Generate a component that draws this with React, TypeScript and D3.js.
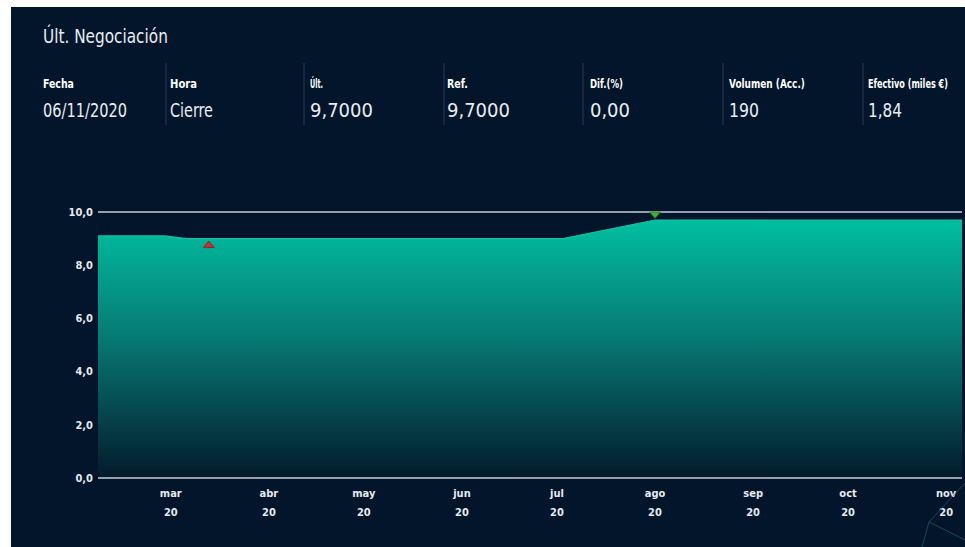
import React, { useRef, useEffect } from "react";
import * as d3 from "d3";

// header block
const title = "Últ. Negociación";
const headerLabels = ["Fecha", "Hora", "Últ.", "Ref.", "Dif.(%)", "Volumen (Acc.)", "Efectivo (miles €)"];
const headerValues = ["06/11/2020", "Cierre", "9,7000", "9,7000", "0,00", "190", "1,84"];

// price series
const dates = ["2020-02-07", "2020-02-28", "2020-03-06", "2020-03-13", "2020-07-03", "2020-08-01", "2020-11-06"];
const prices = [9.1, 9.1, 9.0, 9.0, 9.0, 9.7, 9.7];

// min / max markers
const minMarker = { date: "2020-03-13", value: 9.0 };
const maxMarker = { date: "2020-08-01", value: 9.7 };

const yTicks = [0, 2, 4, 6, 8, 10];
const monthLabels = ["mar", "abr", "may", "jun", "jul", "ago", "sep", "oct", "nov"];
const yearLabel = "20";

const W = 965;
const H = 547;
const FONT = "'DejaVu Sans Condensed', 'DejaVu Sans', Roboto, sans-serif";

// the reference uses a narrow face, so widths are pinned
const titleWidth = 125;
const labelWidths = [31, 27, 13, 21, 33, 76, 80];
const valueWidths = [84, 43, 63, 63, 40, 30, 34];

type Sel = d3.Selection<SVGGElement, unknown, null, undefined>;

const App: React.FC = () => {
  const svgRef = useRef<SVGSVGElement | null>(null);

  useEffect(() => {
    if (!svgRef.current) return;
    const svg = d3.select(svgRef.current);
    svg.selectAll("*").remove();

    const parse = d3.timeParse("%Y-%m-%d");
    const data = dates.map((d, i) => ({ date: parse(d) as Date, value: prices[i] }));

    const x = d3
      .scaleTime()
      .domain([data[0].date, data[data.length - 1].date])
      .range([98, 962]);
    const y = d3.scaleLinear().domain([0, 10]).range([478, 212]);

    // page + panel
    svg.append("rect").attr("width", W).attr("height", H).attr("fill", "#ffffff");
    svg.append("rect").attr("x", 11).attr("y", 7).attr("width", W - 11).attr("height", H - 7).attr("fill", "#02152a");

    // squeezed text: draw, measure, then scale horizontally to the target width
    const narrowText = (
      tx: number,
      ty: number,
      str: string,
      size: number,
      weight: string,
      fill: string,
      target: number
    ) => {
      const g: Sel = svg.append("g").attr("transform", `translate(${tx},${ty})`) as unknown as Sel;
      const t = g
        .append("text")
        .attr("fill", fill)
        .attr("font-family", FONT)
        .attr("font-weight", weight)
        .attr("font-size", size)
        .text(str);
      const natural = (t.node() as SVGTextElement).getComputedTextLength() || target;
      g.attr("transform", `translate(${tx},${ty}) scale(${target / natural},1)`);
    };

    narrowText(43, 43, title, 19, "normal", "#e9edf2", titleWidth);

    const colX = [43, 170, 310, 447, 590, 729, 868];
    const sepX = [166, 304, 444, 583, 723, 863];
    sepX.forEach((sx) => {
      svg
        .append("line")
        .attr("x1", sx)
        .attr("x2", sx)
        .attr("y1", 63)
        .attr("y2", 125)
        .attr("stroke", "#2a3b52")
        .attr("stroke-width", 1);
    });
    headerLabels.forEach((lab, i) => {
      narrowText(colX[i], 88, lab, 13, "bold", "#ffffff", labelWidths[i]);
      narrowText(colX[i], 117, headerValues[i], 20, "normal", "#e9edf2", valueWidths[i]);
    });

    // gradient for area
    const defs = svg.append("defs");
    const grad = defs
      .append("linearGradient")
      .attr("id", "areaGrad")
      .attr("gradientUnits", "userSpaceOnUse")
      .attr("x1", 0)
      .attr("x2", 0)
      .attr("y1", y(9.7))
      .attr("y2", y(0));
    grad.append("stop").attr("offset", "0%").attr("stop-color", "#00bfa0");
    grad.append("stop").attr("offset", "45%").attr("stop-color", "#077a74");
    grad.append("stop").attr("offset", "100%").attr("stop-color", "#041a2d");

    const area = d3
      .area<{ date: Date; value: number }>()
      .x((d) => x(d.date))
      .y0(y(0))
      .y1((d) => y(d.value));
    svg.append("path").datum(data).attr("d", area).attr("fill", "url(#areaGrad)");

    const line = d3
      .line<{ date: Date; value: number }>()
      .x((d) => x(d.date))
      .y((d) => y(d.value));
    svg
      .append("path")
      .datum(data)
      .attr("d", line)
      .attr("fill", "none")
      .attr("stroke", "#14c3a4")
      .attr("stroke-width", 1.2);

    // gridlines at 0 and 10 only
    [0, 10].forEach((v) => {
      svg
        .append("line")
        .attr("x1", 98)
        .attr("x2", 962)
        .attr("y1", y(v))
        .attr("y2", y(v))
        .attr("stroke", "#c9ced6")
        .attr("stroke-width", 1.5);
    });

    // y labels
    const fmt = (v: number) => v.toFixed(1).replace(".", ",");
    yTicks.forEach((v) => {
      svg
        .append("text")
        .attr("x", 93)
        .attr("y", y(v))
        .attr("dy", "0.35em")
        .attr("text-anchor", "end")
        .attr("fill", "#e6eaf0")
        .attr("font-family", FONT)
        .attr("font-weight", "bold")
        .attr("font-size", 11)
        .text(fmt(v));
    });

    // x labels
    const months = d3.timeMonth.range(new Date(2020, 2, 1), new Date(2020, 10, 2));
    months.forEach((m, i) => {
      const g = svg
        .append("g")
        .attr("transform", `translate(${x(m)},0)`)
        .attr("fill", "#e6eaf0")
        .attr("font-family", FONT)
        .attr("font-weight", "bold")
        .attr("font-size", 11)
        .attr("text-anchor", "middle");
      g.append("text").attr("y", 497).text(monthLabels[i]);
      g.append("text").attr("y", 516).text(yearLabel);
    });

    // min / max markers
    const mx = x(parse(minMarker.date) as Date);
    const my = y(minMarker.value) + 6;
    svg
      .append("path")
      .attr("d", `M${mx - 5.5},${my + 3} L${mx},${my - 3.5} L${mx + 5.5},${my + 3} Z`)
      .attr("fill", "#d7262c")
      .attr("stroke", "#7a0d12")
      .attr("stroke-width", 0.6);
    const Mx = x(parse(maxMarker.date) as Date);
    const My = y(maxMarker.value) - 5;
    svg
      .append("path")
      .attr("d", `M${Mx - 5.5},${My - 3} L${Mx},${My + 3.5} L${Mx + 5.5},${My - 3} Z`)
      .attr("fill", "#3fae3a")
      .attr("stroke", "#1f6b1c")
      .attr("stroke-width", 0.6);

    // faint decoration bottom-right
    const deco: [number, number, number, number][] = [
      [965, 483, 929, 522],
      [929, 522, 922, 547],
      [929, 522, 965, 540],
    ];
    deco.forEach(([x1, y1, x2, y2]) => {
      svg
        .append("line")
        .attr("x1", x1)
        .attr("y1", y1)
        .attr("x2", x2)
        .attr("y2", y2)
        .attr("stroke", "#1f6f78")
        .attr("stroke-opacity", 0.6)
        .attr("stroke-width", 1);
    });
  }, []);

  return (
    <svg
      ref={svgRef}
      width={W}
      height={H}
      style={{ position: "absolute", left: 0, top: 0, display: "block" }}
    />
  );
};

export default App;
